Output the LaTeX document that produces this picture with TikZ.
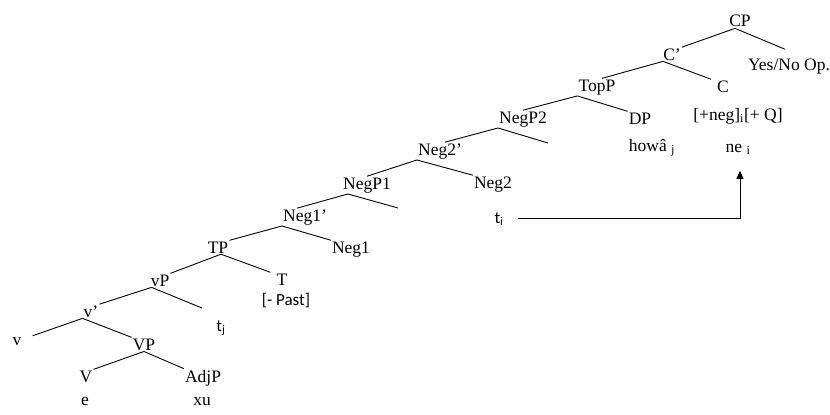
\documentclass[tikz,border=0pt]{standalone}
\usepackage{fontspec}
\setmainfont{Liberation Serif}
\newfontfamily\calfont{Carlito}
\usetikzlibrary{arrows.meta}
\tikzset{
  lbl/.style={anchor=base, inner sep=1pt, font=\fontsize{17.5}{20}\selectfont},
  slbl/.style={anchor=base, inner sep=1pt, font=\calfont\fontsize{17}{20}\selectfont},
  br/.style={draw=black, line width=0.9pt},
  mv/.style={draw=black, line width=0.9pt, -{Triangle[width=7pt,length=8pt]}}
}
\begin{document}
\begin{tikzpicture}[x=1pt,y=-1pt]
\useasboundingbox (0,0) rectangle (830,415);
% labels
\node[lbl] (CP)    at (740,27)  {CP};
\node[lbl] (Cb)    at (672,60)  {C’};
\node[lbl] (Yes)   at (789,70)  {Yes/No Op.};
\node[lbl] (TopP)  at (597,91)  {TopP};
\node[lbl] (C)     at (723,92)  {C};
\node[lbl] (feat)  at (738,120) {[+neg]\textsubscript{i}[+ Q]};
\node[lbl] (DP)    at (640,124) {DP};
\node[lbl] (howa)  at (652,151) {howâ \textsubscript{j}};
\node[lbl] (ne)    at (738,152) {ne \textsubscript{i}};
\node[lbl] (NegP2) at (523,123) {NegP2};
\node[lbl] (Neg2b) at (440,155) {Neg2’};
\node[lbl] (Neg2)  at (493,188) {Neg2};
\node[slbl] (ti)   at (499,223) {t\textsubscript{i}};
\node[lbl] (NegP1) at (367,189) {NegP1};
\node[lbl] (Neg1b) at (305,221) {Neg1’};
\node[lbl] (Neg1)  at (351,253) {Neg1};
\node[lbl] (TP)    at (218,253) {TP};
\node[lbl] (T)     at (282,285) {T};
\node[slbl] (Past) at (286,305) {[- Past]};
\node[lbl] (vP)    at (160,286) {vP};
\node[lbl] (vb)    at (91,317)  {v’};
\node[slbl] (tj)   at (221,331) {t\textsubscript{j}};
\node[lbl] (v)     at (17,345)  {v};
\node[lbl] (VP)    at (144,350) {VP};
\node[lbl] (V)     at (86,382)  {V};
\node[lbl] (AdjP)  at (203,382) {AdjP};
\node[lbl] (e)     at (85,405)  {e};
\node[lbl] (xu)    at (202,405) {xu};
% empty branch ends
\coordinate (NegP2e) at (548,143);
\coordinate (NegP1e) at (398,208);
\coordinate (vPe)    at (202,308);
% branches
\draw[br] ([xshift=-5pt]CP.south) -- (Cb.north east);
\draw[br] ([xshift=-5pt]CP.south) -- ([shift={(-4pt,8pt)}]Yes.north);
\draw[br] ([xshift=-9pt]Cb.south) -- ([xshift=5pt]TopP.north);
\draw[br] ([xshift=-9pt]Cb.south) -- ([xshift=-5pt]C.north west);
\draw[br] (TopP.south west) -- (NegP2.north);
\draw[br] (TopP.south west) -- (DP.north west);
\draw[br] (NegP2.south west) -- ([xshift=5pt]Neg2b.north);
\draw[br] (NegP2.south west) -- (NegP2e);
\draw[br] (Neg2b.south west) -- (NegP1.north);
\draw[br] (Neg2b.south west) -- (Neg2.north west);
\draw[br] ([xshift=6pt]NegP1.south west) -- ([xshift=-8pt]Neg1b.north);
\draw[br] ([xshift=6pt]NegP1.south west) -- (NegP1e);
\draw[br] (Neg1b.south west) -- (TP.north east);
\draw[br] (Neg1b.south west) -- (Neg1.north west);
\draw[br] ([xshift=3pt]TP.south) -- (vP.north east);
\draw[br] ([xshift=3pt]TP.south) -- ([xshift=-5pt]T.north west);
\draw[br] ([xshift=2pt]vP.south west) -- (vb.north east);
\draw[br] ([xshift=2pt]vP.south west) -- (vPe);
\draw[br] (vb.south west) -- ([xshift=10pt]v.north east);
\draw[br] (vb.south west) -- (VP.north west);
\draw[br] (VP.south) -- (V.north east);
\draw[br] (VP.south) -- (AdjP.north west);
% movement
\draw[mv] ([xshift=13pt]ti.east) -| ([shift={(2pt,-15pt)}]ne.south);
\end{tikzpicture}
\end{document}
